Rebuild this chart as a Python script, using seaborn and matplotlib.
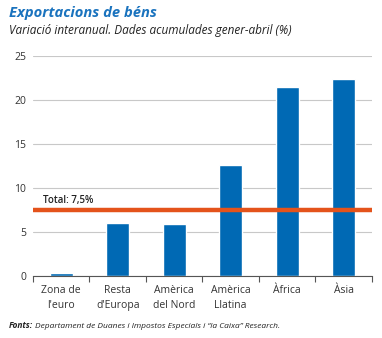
import matplotlib
matplotlib.use("Agg")
import matplotlib.pyplot as plt
from matplotlib.ticker import FixedLocator
import seaborn as sns
import pandas as pd

categories = ["Zona de\nl'euro", "Resta\nd'Europa", "Amèrica\ndel Nord", "Amèrica\nLlatina", "Àfrica", "Àsia"]
values = [0.3, 6.0, 5.9, 12.6, 21.45, 22.35]
total_value = 7.5
total_label = "Total: 7,5%"
y_ticks = [0, 5, 10, 15, 20, 25]

sns.set_theme(style="white")
plt.rcParams['font.family'] = ['Open Sans', 'DejaVu Sans']

df = pd.DataFrame({"cat": categories, "val": values})

fig = plt.figure(figsize=(3.82, 3.38), dpi=100)
ax = fig.add_axes([33/382, 62/338, (372-33)/382, (276-56)/338])

sns.barplot(data=df, x="cat", y="val", color="#0069b4", saturation=1, width=0.41, ax=ax, zorder=3)

ax.set_ylim(0, 25)
ax.set_xlim(-0.5, len(categories) - 0.5)
ax.set_yticks(y_ticks)
ax.set_yticklabels([str(t) for t in y_ticks], fontsize=7.5, color="#333333")
ax.yaxis.grid(True, color="#c8c8c8", lw=0.8, zorder=0)
ax.set_axisbelow(True)
for s in ["left", "top", "right"]:
    ax.spines[s].set_visible(False)
ax.spines["bottom"].set_color("#555555")
ax.spines["bottom"].set_linewidth(0.8)
ax.spines["bottom"].set_zorder(4)
ax.tick_params(axis="y", length=0, pad=5)
ax.tick_params(axis="x", which="major", length=0, pad=6.5, labelsize=7.5, labelcolor="#333333")
for lab in ax.get_xticklabels():
    lab.set_linespacing(1.45)
ax.xaxis.set_minor_locator(FixedLocator([i - 0.5 for i in range(len(categories) + 1)]))
ax.tick_params(axis="x", which="minor", length=4, width=0.8, color="#555555", direction="out", bottom=True)
ax.set_xlabel("")
ax.set_ylabel("")

ax.axhline(total_value, color="#e4531b", lw=3.2, zorder=5)
ax.text(-0.32, total_value + 0.75, total_label, fontsize=7, fontweight="semibold", color="#222222", zorder=6)

fig.text(9/382, 1 - 17/338, "Exportacions de béns", fontsize=10.6, fontweight="bold", fontstyle="italic", color="#1a73be")
fig.text(9/382, 1 - 34/338, "Variació interanual. Dades acumulades gener-abril (%)", fontsize=8.5, fontstyle="italic", color="#222222")

t1 = fig.text(9/382, 1 - 328/338, "Fonts:", fontsize=6.0, fontweight="bold", fontstyle="italic", color="#222222")
fig.canvas.draw()
bb = t1.get_window_extent()
fig.text((bb.x1 + 2) / 382, 1 - 328/338, "Departament de Duanes i Impostos Especials i \u201cla Caixa\u201d Research.", fontsize=6.0, fontstyle="italic", color="#222222")

fig.savefig("out.png", dpi=100)
